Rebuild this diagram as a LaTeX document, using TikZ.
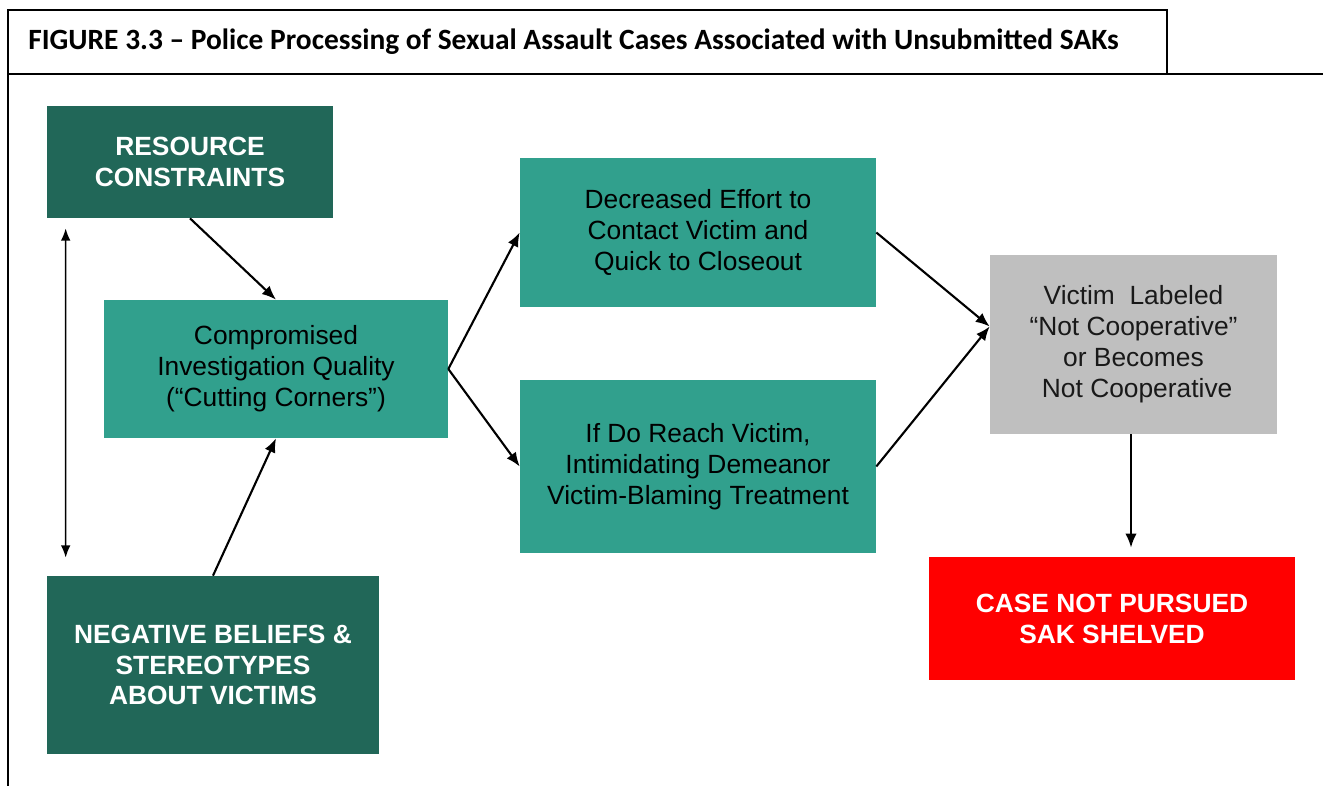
\documentclass[tikz,border=0pt]{standalone}
\usepackage{fontspec}
\setmainfont{Liberation Sans}
\newfontfamily\captionfont{Carlito}
\usetikzlibrary{positioning}
\usetikzlibrary{calc}
\usetikzlibrary{arrows.meta}

\definecolor{darkteal}{HTML}{216758}
\definecolor{boxteal}{HTML}{31A08D}
\definecolor{boxgray}{HTML}{BFBFBF}
\definecolor{boxred}{HTML}{FF0000}

\begin{document}
\begin{tikzpicture}[x=0.02cm, y=-0.02cm]
    % page size (pixels)
    \useasboundingbox (0,0) rectangle (1323,786);

    \tikzstyle{box} = [rectangle, inner sep=0pt, align=center, font=\fontsize{15}{17.6}\selectfont]
    \tikzstyle{darkbox} = [box, fill=darkteal, text=white, font=\fontsize{15}{17.6}\selectfont\bfseries]
    \tikzstyle{tealbox} = [box, fill=boxteal, text=black]
    \tikzstyle{flow} = [-{Latex[length=8pt, width=6.5pt]}, line width=1.2pt, draw=black]

    % frame of the figure and its caption
    \draw[line width=1pt] (8,74) -- (8,10) -- (1167,10) -- (1167,74);
    \draw[line width=1pt] (8,74) -- (1323,74);
    \draw[line width=1pt] (8,74) -- (8,786);
    \node[anchor=west, inner sep=0pt, font=\captionfont\bfseries\fontsize{16.75}{19}\selectfont] (caption) at (28,42)
        {FIGURE 3.3 – Police Processing of Sexual Assault Cases Associated with Unsubmitted SAKs};

    % left column: the two causes
    \node[darkbox, minimum width=5.72cm, minimum height=2.24cm] (res) at (190,162)
        {RESOURCE\\CONSTRAINTS};
    \node[darkbox, minimum width=6.64cm, minimum height=3.56cm] (neg) at (213,665)
        {NEGATIVE BELIEFS \&\\STEREOTYPES\\ABOUT VICTIMS};
    \node[tealbox, minimum width=6.88cm, minimum height=2.76cm] (comp) at (276,369)
        {Compromised\\Investigation Quality\\(“Cutting Corners”)};

    % middle column: what the police do
    \node[tealbox, minimum width=7.12cm, minimum height=2.98cm] (effort) at (698,232.5)
        {Decreased Effort to\\Contact Victim and\\Quick to Closeout};
    \node[tealbox, minimum width=7.12cm, minimum height=3.46cm] (reach) at (698,466.5)
        {If Do Reach Victim,\\Intimidating Demeanor\\Victim-Blaming Treatment};

    % right column: the outcome
    \node[box, fill=boxgray, text=black!90, minimum width=5.74cm, minimum height=3.58cm] (victim) at (1133.5,344.5)
        {Victim\ \ Labeled\\“Not Cooperative”\\or Becomes\\\ Not Cooperative};
    \node[box, fill=boxred, text=white, font=\fontsize{15}{17.6}\selectfont\bfseries, minimum width=7.32cm, minimum height=2.46cm] (shelved) at (1112,618.5)
        {CASE NOT PURSUED\\SAK SHELVED};

    % arrows
    \draw[{Latex[length=7pt, width=5.5pt]}-{Latex[length=7pt, width=5.5pt]}, line width=0.9pt, shorten <=0.2cm, shorten >=0.36cm]
        ([xshift=0.38cm]res.south west) -- ([xshift=0.38cm]neg.north west);
    \draw[flow] (res.south) -- (comp.north);
    \draw[flow] (neg.north) -- (comp.south);
    \draw[flow] (comp.east) -- (effort.west);
    \draw[flow] (comp.east) -- (reach.west);
    \coordinate (meet) at ($(victim.west)+(0,-18)$);
    \draw[flow] (effort.east) -- (meet);
    \draw[flow] (reach.east) -- (meet);
    \draw[flow, shorten >=0.18cm] ([xshift=-0.05cm]victim.south) -- ([xshift=-0.05cm]victim.south |- shelved.north);

\end{tikzpicture}
\end{document}
